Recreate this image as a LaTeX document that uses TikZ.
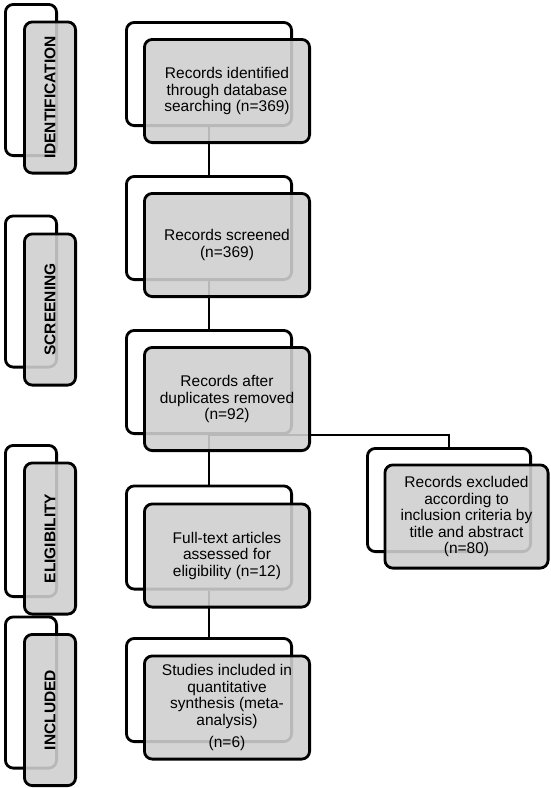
\documentclass[tikz,border=0pt]{standalone}
\usepackage{fontspec}
\setmainfont{Liberation Sans}
\definecolor{boxgray}{RGB}{207,207,207}

\begin{document}
\begin{tikzpicture}[x=1pt,y=-1pt,
    back/.style={draw,line width=2.8pt,rounded corners=8pt,fill=white,
      minimum width=165.2pt,minimum height=103.2pt},
    front/.style={back,fill=boxgray,fill opacity=0.89,text opacity=1,
      align=center,font=\fontsize{15.5}{16.5}\selectfont},
    sideback/.style={back,minimum width=51.2pt,minimum height=151.2pt},
    sidefront/.style={draw,line width=2.8pt,rounded corners=8pt,
      fill=boxgray,fill opacity=0.89,text opacity=1,rotate=90,
      minimum width=151.2pt,minimum height=51.2pt,
      font=\bfseries\fontsize{15.5}{16.5}\selectfont},
    link/.style={line width=2.8pt}]
  \useasboundingbox (0,0) rectangle (550,788);
  % phase labels
  \node[sideback] (idB) at (31,80) {};
  \node[sidefront] (idF) at ([xshift=19pt,yshift=-17.5pt]idB.center) {IDENTIFICATION};
  \node[sideback] (scB) at (31,291.5) {};
  \node[sidefront] (scF) at ([xshift=19pt,yshift=-18pt]scB.center) {SCREENING};
  \node[sideback] (elB) at (31,521) {};
  \node[sidefront] (elF) at ([xshift=19pt,yshift=-17.5pt]elB.center) {ELIGIBILITY};
  \node[sideback] (inB) at (31,692.5) {};
  \node[sidefront] (inF) at ([xshift=19pt,yshift=-17.5pt]inB.center) {INCLUDED};
  % back boxes
  \node[back] (recB) at (209,74) {};
  \node[back] (scrB) at (209,228) {};
  \node[back] (dupB) at (209,382) {};
  \node[back] (fullB) at (209,537.5) {};
  \node[back] (studB) at (209,690) {};
  \node[back,minimum width=163.2pt] (exclB) at (449,500) {};
  % connectors
  \draw[link] (recB) -- (scrB);
  \draw[link] (scrB) -- (dupB);
  \draw[link] (dupB) -- (fullB);
  \draw[link] (fullB) -- (studB);
  \draw[link] (dupB.south) -| (exclB.north);
  % front boxes
  \node[front] (recF) at ([xshift=18pt,yshift=-17pt]recB.center)
    {Records identified\\through database\\searching (n=369)};
  \node[front] (scrF) at ([xshift=18pt,yshift=-17pt]scrB.center)
    {Records screened\\(n=369)};
  \node[front] (dupF) at ([xshift=18pt,yshift=-17pt]dupB.center)
    {Records after\\duplicates removed\\(n=92)};
  \node[front] (fullF) at ([xshift=18pt,yshift=-18pt]fullB.center)
    {Full-text articles\\assessed for\\eligibility (n=12)};
  \node[front] (studF) at ([xshift=18pt,yshift=-17.5pt]studB.center)
    {Studies included in\\quantitative\\synthesis (meta-\\analysis)\\[6pt](n=6)};
  \node[front,minimum width=163.2pt] (exclF) at ([xshift=17.5pt,yshift=-16.5pt]exclB.center)
    {Records excluded\\according to\\inclusion criteria by\\title and abstract\\(n=80)};
\end{tikzpicture}
\end{document}
